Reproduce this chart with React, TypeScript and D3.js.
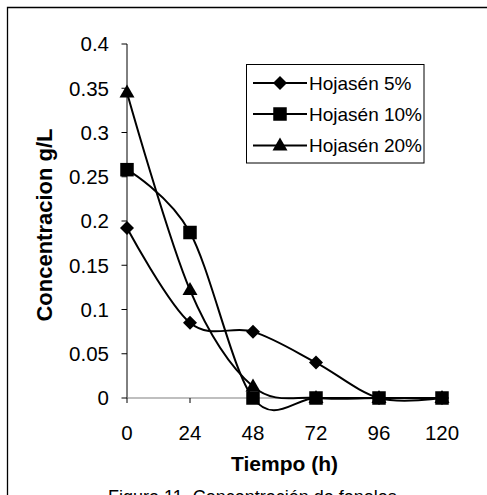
import React from "react";
import * as d3 from "d3";

const times = [0, 24, 48, 72, 96, 120];
const hojasen5 = [0.192, 0.085, 0.075, 0.04, 0, 0];
const hojasen10 = [0.258, 0.187, 0, 0, 0, 0];
const hojasen20 = [0.345, 0.122, 0.013, 0, 0, 0];
const seriesNames = ["Hojasén 5%", "Hojasén 10%", "Hojasén 20%"];
const markerTypes = ["diamond", "square", "triangle"];
const yTicks = [0, 0.05, 0.1, 0.15, 0.2, 0.25, 0.3, 0.35, 0.4];
const xTicks = [0, 24, 48, 72, 96, 120];

const W = 487;
const H = 495;
const font = "Arial, 'Liberation Sans', Helvetica, sans-serif";

function Marker({ type, cx, cy }: { type: string; cx: number; cy: number }) {
  if (type === "diamond") {
    const r = 7;
    return <path d={`M${cx},${cy - r}L${cx + r},${cy}L${cx},${cy + r}L${cx - r},${cy}Z`} fill="#000" />;
  }
  if (type === "square") {
    const s = 13.5;
    return <rect x={cx - s / 2} y={cy - s / 2} width={s} height={s} fill="#000" />;
  }
  const b = 7.5;
  const h = 13;
  return <path d={`M${cx},${cy - h * 0.62}L${cx + b},${cy + h * 0.38}L${cx - b},${cy + h * 0.38}Z`} fill="#000" />;
}

export default function App() {
  const x = d3.scaleLinear().domain([0, 120]).range([127, 442]);
  const y = d3.scaleLinear().domain([0, 0.4]).range([398, 44]);
  const data = [hojasen5, hojasen10, hojasen20];
  const line = d3
    .line<number>()
    .x((_, i) => x(times[i]))
    .y((d) => y(d))
    .curve(d3.curveCardinal.tension(0));

  const legX = 246.5;
  const legY = 64.5;
  const legW = 177.5;
  const legH = 98.5;
  const rowY = [83, 114, 145.5];

  return (
    <svg
      width={W}
      height={H}
      style={{ position: "absolute", left: 0, top: 0, display: "block", background: "#fff" }}
      fontFamily={font}
    >
      <rect x={0} y={0} width={W} height={H} fill="#fff" />
      {/* outer frame */}
      <path d={`M7.5,${H + 5}L7.5,7.5L${W + 5},7.5`} fill="none" stroke="#000" strokeWidth={1.3} />

      {/* y axis */}
      <line x1={127} x2={127} y1={y(0.4)} y2={y(0)} stroke="#000" strokeWidth={1} />
      {yTicks.map((t) => (
        <g key={t}>
          <line x1={121.5} x2={127} y1={y(t)} y2={y(t)} stroke="#000" strokeWidth={1} />
          <text x={109} y={y(t)} dy="0.36em" textAnchor="end" fontSize={20.5} fill="#000">
            {String(t)}
          </text>
        </g>
      ))}
      {/* x axis */}
      <line x1={x(0)} x2={x(120)} y1={y(0)} y2={y(0)} stroke="#808080" strokeWidth={1.2} />
      {xTicks.map((t) => (
        <g key={t}>
          <line x1={x(t)} x2={x(t)} y1={y(0)} y2={y(0) + 5} stroke="#000" strokeWidth={1} />
          <text x={x(t)} y={439.5} textAnchor="middle" fontSize={20.5} fill="#000">
            {t}
          </text>
        </g>
      ))}

      {/* axis titles */}
      <text x={284.5} y={471} textAnchor="middle" fontSize={21} fontWeight="bold" fill="#000">
        Tiempo (h)
      </text>
      <text
        transform={`translate(52,225) rotate(-90)`}
        textAnchor="middle"
        fontSize={22}
        fontWeight="bold"
        fill="#000"
      >
        Concentracion g/L
      </text>

      {/* series lines */}
      {data.map((s, k) => (
        <path key={k} d={line(s) || ""} fill="none" stroke="#000" strokeWidth={2} />
      ))}
      {/* markers */}
      {data.map((s, k) =>
        s.map((v, i) => <Marker key={`${k}-${i}`} type={markerTypes[k]} cx={x(times[i])} cy={y(v)} />)
      )}

      {/* legend */}
      <rect x={legX} y={legY} width={legW} height={legH} fill="#fff" stroke="#000" strokeWidth={1} />
      {seriesNames.map((n, k) => (
        <g key={n}>
          <line x1={253} x2={307} y1={rowY[k]} y2={rowY[k]} stroke="#000" strokeWidth={2} />
          <Marker type={markerTypes[k]} cx={280} cy={rowY[k]} />
          <text x={309} y={rowY[k]} dy="0.36em" fontSize={19} fill="#000">
            {n}
          </text>
        </g>
      ))}

      {/* caption (cut off at bottom) */}
      <text x={108} y={503} fontSize={18} fill="#000">
        Figura 11. Concentración de fenoles
      </text>
    </svg>
  );
}
